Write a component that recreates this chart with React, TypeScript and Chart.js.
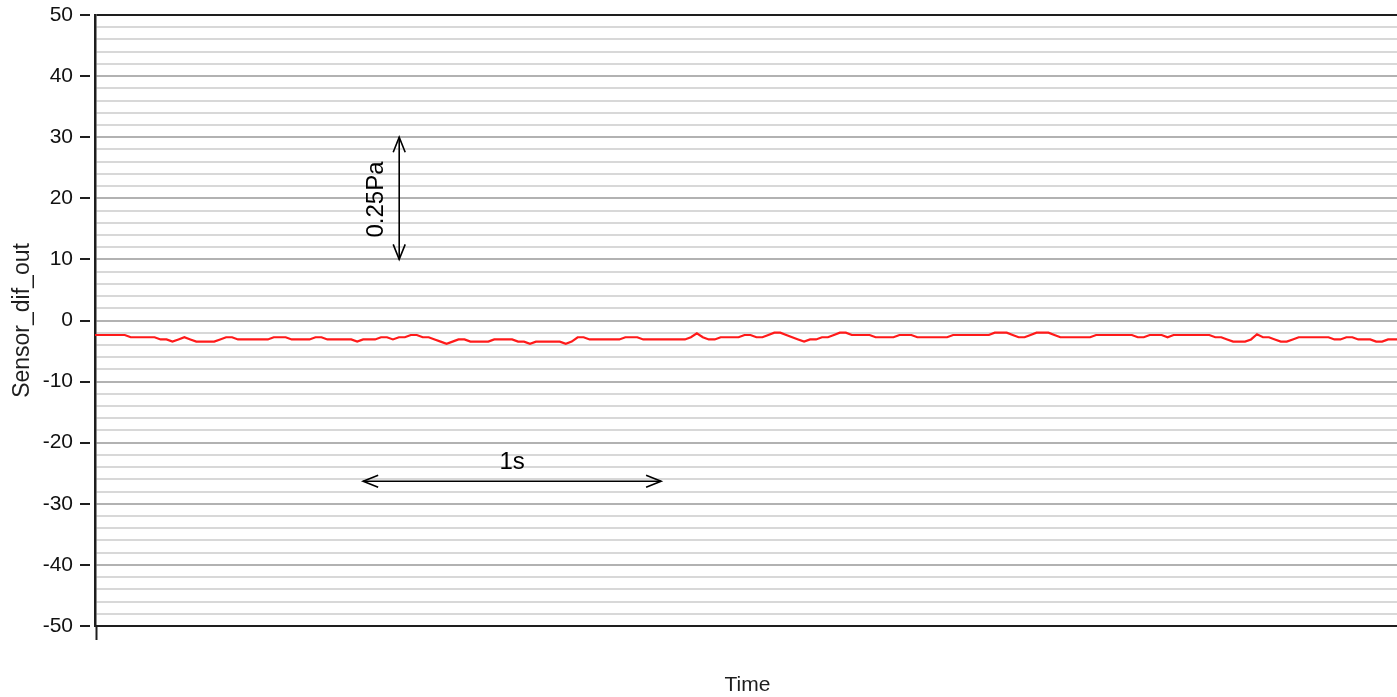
import { useEffect, useRef } from 'react';
import { Chart, registerables } from 'chart.js';

Chart.register(...registerables);

// ---- data ----
const SAMPLE_PERIOD_S = 0.02; // seconds between samples
const sensorDifOut: number[] = [
  -2.37, -2.37, -2.37, -2.37, -2.37, -2.37, -2.74, -2.74, -2.74, -2.74,
  -2.74, -3.1, -3.1, -3.46, -3.1, -2.74, -3.1, -3.46, -3.46, -3.46,
  -3.46, -3.1, -2.74, -2.74, -3.1, -3.1, -3.1, -3.1, -3.1, -3.1,
  -2.74, -2.74, -2.74, -3.1, -3.1, -3.1, -3.1, -2.74, -2.74, -3.1,
  -3.1, -3.1, -3.1, -3.1, -3.46, -3.1, -3.1, -3.1, -2.74, -2.74,
  -3.1, -2.74, -2.74, -2.37, -2.37, -2.74, -2.74, -3.1, -3.46, -3.8,
  -3.46, -3.1, -3.1, -3.46, -3.46, -3.46, -3.46, -3.1, -3.1, -3.1,
  -3.1, -3.46, -3.46, -3.8, -3.46, -3.46, -3.46, -3.46, -3.46, -3.8,
  -3.46, -2.74, -2.74, -3.1, -3.1, -3.1, -3.1, -3.1, -3.1, -2.74,
  -2.74, -2.74, -3.1, -3.1, -3.1, -3.1, -3.1, -3.1, -3.1, -3.1,
  -2.74, -2.1, -2.74, -3.1, -3.1, -2.74, -2.74, -2.74, -2.74, -2.37,
  -2.37, -2.74, -2.74, -2.37, -2.0, -2.0, -2.37, -2.74, -3.1, -3.46,
  -3.1, -3.1, -2.74, -2.74, -2.37, -2.0, -2.0, -2.37, -2.37, -2.37,
  -2.37, -2.74, -2.74, -2.74, -2.74, -2.37, -2.37, -2.37, -2.74, -2.74,
  -2.74, -2.74, -2.74, -2.74, -2.37, -2.37, -2.37, -2.37, -2.37, -2.37,
  -2.37, -2.0, -2.0, -2.0, -2.37, -2.74, -2.74, -2.37, -2.0, -2.0,
  -2.0, -2.37, -2.74, -2.74, -2.74, -2.74, -2.74, -2.74, -2.37, -2.37,
  -2.37, -2.37, -2.37, -2.37, -2.37, -2.74, -2.74, -2.37, -2.37, -2.37,
  -2.74, -2.37, -2.37, -2.37, -2.37, -2.37, -2.37, -2.37, -2.74, -2.74,
  -3.1, -3.46, -3.46, -3.46, -3.1, -2.25, -2.74, -2.74, -3.1, -3.46,
  -3.46, -3.1, -2.74, -2.74, -2.74, -2.74, -2.74, -2.74, -3.1, -3.1,
  -2.74, -2.74, -3.1, -3.1, -3.1, -3.46, -3.46, -3.1, -3.1, -3.1,
];

const yRange = [-50, 50];
const yMinorStep = 2;
const yLabelStep = 10;
const xRangeSeconds = [0, 4.38];

// annotations (data units: seconds / sensor units)
const timeArrow = { from: 0.9, to: 1.9, value: -26.3, label: '1s', labelTime: 1.4, labelValue: -23.2 };
const pressureArrow = { time: 1.021, from: 10, to: 30, label: '0.25Pa', labelTime: 0.944, labelValue: 19.8 };

const AXIS_COLOR = '#1e1e1e';

function drawArrowHead(ctx: CanvasRenderingContext2D, tx: number, ty: number, angle: number) {
  const len = 15;
  const half = 6;
  const bx = tx - Math.cos(angle) * len;
  const by = ty - Math.sin(angle) * len;
  const px = -Math.sin(angle) * half;
  const py = Math.cos(angle) * half;
  ctx.beginPath();
  ctx.moveTo(bx + px, by + py);
  ctx.lineTo(tx, ty);
  ctx.lineTo(bx - px, by - py);
  ctx.stroke();
}

function drawDoubleArrow(ctx: CanvasRenderingContext2D, x1: number, y1: number, x2: number, y2: number) {
  ctx.beginPath();
  ctx.moveTo(x1, y1);
  ctx.lineTo(x2, y2);
  ctx.stroke();
  const a = Math.atan2(y2 - y1, x2 - x1);
  drawArrowHead(ctx, x2, y2, a);
  drawArrowHead(ctx, x1, y1, a + Math.PI);
}

const overlayPlugin = {
  id: 'overlay',
  afterDraw(chart: any) {
    const { ctx, chartArea, scales } = chart;
    const xs = scales.x;
    const ys = scales.y;
    ctx.save();
    // y tick marks (detached from axis)
    ctx.strokeStyle = AXIS_COLOR;
    ctx.lineWidth = 2;
    ys.ticks.forEach((t: any) => {
      if (Math.round(t.value) % yLabelStep === 0) {
        const py = Math.round(ys.getPixelForValue(t.value));
        ctx.beginPath();
        ctx.moveTo(chartArea.left - 15, py);
        ctx.lineTo(chartArea.left - 5, py);
        ctx.stroke();
      }
    });
    // x tick at origin
    ctx.beginPath();
    ctx.moveTo(chartArea.left + 1.5, chartArea.bottom);
    ctx.lineTo(chartArea.left + 1.5, chartArea.bottom + 14);
    ctx.stroke();

    // annotation arrows
    ctx.strokeStyle = '#000';
    ctx.lineWidth = 1.6;
    const hx1 = xs.getPixelForValue(timeArrow.from);
    const hx2 = xs.getPixelForValue(timeArrow.to);
    const hy = ys.getPixelForValue(timeArrow.value);
    drawDoubleArrow(ctx, hx1, hy, hx2, hy);

    const vx = xs.getPixelForValue(pressureArrow.time);
    const vy1 = ys.getPixelForValue(pressureArrow.from);
    const vy2 = ys.getPixelForValue(pressureArrow.to);
    drawDoubleArrow(ctx, vx, vy1, vx, vy2);

    ctx.fillStyle = '#000';
    ctx.font = '24px "Liberation Sans", Arial, sans-serif';
    ctx.textAlign = 'center';
    ctx.textBaseline = 'middle';
    ctx.fillText(timeArrow.label, xs.getPixelForValue(timeArrow.labelTime), ys.getPixelForValue(timeArrow.labelValue));

    ctx.save();
    ctx.translate(xs.getPixelForValue(pressureArrow.labelTime), ys.getPixelForValue(pressureArrow.labelValue));
    ctx.rotate(-Math.PI / 2);
    ctx.fillText(pressureArrow.label, 0, 0);
    ctx.restore();

    ctx.restore();
  },
};

export default function App() {
  const canvasRef = useRef<HTMLCanvasElement | null>(null);

  useEffect(() => {
    if (!canvasRef.current) return;
    const points = sensorDifOut.map((v, i) => ({ x: i * SAMPLE_PERIOD_S, y: v }));
    const chart = new Chart(canvasRef.current, {
      type: 'line',
      data: {
        datasets: [
          {
            label: 'Sensor_dif_out',
            data: points,
            borderColor: '#ff1a1a',
            borderWidth: 2.2,
            pointRadius: 0,
            tension: 0,
            fill: false,
          },
        ],
      },
      options: {
        responsive: false,
        animation: false,
        devicePixelRatio: 1,
        parsing: false as any,
        layout: { padding: { top: 15, right: 2, left: 0, bottom: 0 } },
        plugins: {
          legend: { display: false },
          tooltip: { enabled: false },
        },
        scales: {
          x: {
            type: 'linear',
            min: xRangeSeconds[0],
            max: xRangeSeconds[1],
            grid: { display: false, drawTicks: false },
            border: { display: true, color: AXIS_COLOR, width: 2 },
            ticks: { display: false },
            title: {
              display: true,
              text: 'Time',
              color: '#1e1e1e',
              font: { family: '"Liberation Sans", Arial, sans-serif', size: 21, lineHeight: 1.1 },
              padding: { top: 0, bottom: 0 },
            },
            afterFit: (scale: any) => {
              scale.height = 71;
              scale.paddingLeft = 0;
              scale.paddingRight = 0;
            },
          },
          y: {
            type: 'linear',
            min: yRange[0],
            max: yRange[1],
            grid: {
              drawTicks: false,
              color: (c: any) => {
                const v = Math.round(c.tick.value);
                if (v === yRange[1]) return AXIS_COLOR;
                return v % yLabelStep === 0 ? '#b2b2b2' : '#d8d8d8';
              },
              lineWidth: 2,
            },
            border: { display: true, color: AXIS_COLOR, width: 2.5 },
            ticks: {
              stepSize: yMinorStep,
              autoSkip: false,
              padding: 22,
              color: '#111',
              font: { family: '"Liberation Sans", Arial, sans-serif', size: 21 },
              callback: (val: any) => (Math.round(Number(val)) % yLabelStep === 0 ? String(Math.round(Number(val))) : ''),
            },
            title: {
              display: true,
              text: 'Sensor_dif_out',
              color: '#1e1e1e',
              font: { family: '"Liberation Sans", Arial, sans-serif', size: 23 },
              padding: { top: 9, bottom: 0 },
            },
            afterFit: (scale: any) => {
              scale.width = 95;
              scale.paddingTop = 0;
              scale.paddingBottom = 0;
            },
          },
        },
      },
      plugins: [overlayPlugin],
    });
    return () => chart.destroy();
  }, []);

  return (
    <div
      style={{
        position: 'fixed',
        left: 0,
        top: 0,
        width: 1397,
        height: 697,
        overflow: 'hidden',
        background: '#fff',
      }}
    >
      <canvas ref={canvasRef} width={1402} height={697} style={{ display: 'block' }} />
    </div>
  );
}
